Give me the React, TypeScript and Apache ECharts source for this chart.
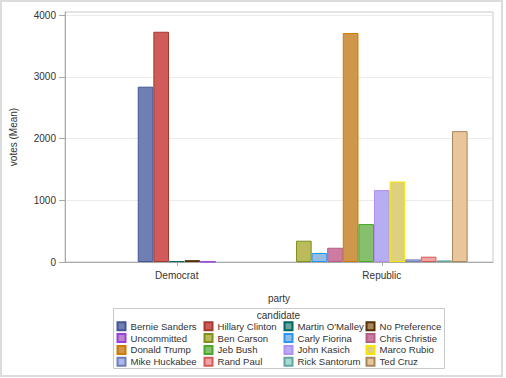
import React, { useEffect, useRef } from "react";
import * as echarts from "echarts";

const partyCategories = ["Democrat", "Republic"];
const candidates = [
  "Bernie Sanders", "Hillary Clinton", "Martin O'Malley", "No Preference",
  "Uncommitted", "Ben Carson", "Carly Fiorina", "Chris Christie",
  "Donald Trump", "Jeb Bush", "John Kasich", "Marco Rubio",
  "Mike Huckabee", "Rand Paul", "Rick Santorum", "Ted Cruz",
];
const candidateParty = [
  "Democrat", "Democrat", "Democrat", "Democrat",
  "Democrat", "Republic", "Republic", "Republic",
  "Republic", "Republic", "Republic", "Republic",
  "Republic", "Republic", "Republic", "Republic",
];
const meanVotes = [
  2840, 3730, 15, 30,
  5, 345, 146, 231,
  3710, 615, 1165, 1304,
  42, 86, 26, 2120,
];
const yTicks = [0, 1000, 2000, 3000, 4000];

const fills = [
  "#6F7EB3", "#D05B5B", "#66A5A0", "#A9865B",
  "#B689CD", "#BABC5C", "#94BDE1", "#CD7BA1",
  "#CF974B", "#86C06C", "#B7AEF1", "#DDD17E",
  "#A9B7EC", "#F4A3A3", "#A3DBD6", "#E8C59A",
];
const borders = [
  "#445694", "#A23A2E", "#01665E", "#543005",
  "#9D3CDB", "#7F8E1F", "#2597FA", "#B26084",
  "#D17800", "#47A82A", "#B38EF3", "#F9E600",
  "#6F7EB3", "#D05B5B", "#66A5A0", "#A9865B",
];

const FONT = "Liberation Sans, Arial, sans-serif";
const TXT = "#333333";

const GRID_LEFT = 63;
const GRID_TOP = 12;
const GRID_W = 430;
const GRID_H = 250;
const CAT_PX = 206; // pixel distance between category centers
const FIRST_CAT_PX = 112.3; // first category center from grid left
const BAR_PX = 15.67;

export default function App() {
  const ref = useRef<HTMLDivElement>(null);

  useEffect(() => {
    if (!ref.current) return;
    const chart = echarts.init(ref.current, undefined, { renderer: "svg" });

    const slot = BAR_PX / CAT_PX;
    const xMin = -FIRST_CAT_PX / CAT_PX;
    const xMax = xMin + GRID_W / CAT_PX;

    const series = candidates.map((name, i) => {
      const p = candidateParty[i];
      const g = partyCategories.indexOf(p);
      const members = candidates.filter((_, j) => candidateParty[j] === p);
      const idx = members.indexOf(name);
      const x = g + (idx - (members.length - 1) / 2) * slot;
      return {
        name,
        type: "bar",
        barWidth: BAR_PX,
        barGap: "-100%",
        data: [[x, meanVotes[i]]],
        itemStyle: { color: fills[i], borderColor: borders[i], borderWidth: 1 },
        emphasis: { disabled: true },
      };
    });

    const columns = [0, 1, 2, 3];
    const colLeft = [116.5, 203.5, 283.5, 365.5];
    const legends = columns.map((c) => ({
      orient: "vertical",
      left: colLeft[c],
      top: 320.4,
      padding: 0,
      itemGap: 0,
      itemWidth: 8,
      itemHeight: 8,
      icon: "rect",
      selectedMode: false,
      data: candidates.filter((_, i) => i % 4 === c),
      textStyle: { fontFamily: FONT, fontSize: 9.6, color: TXT, lineHeight: 11.8 },
    }));

    chart.setOption({
      animation: false,
      backgroundColor: "#ffffff",
      textStyle: { fontFamily: FONT },
      grid: {
        left: GRID_LEFT,
        top: GRID_TOP,
        width: GRID_W,
        height: GRID_H,
        show: true,
        borderColor: "#C6CBC9",
        borderWidth: 1,
        containLabel: false,
      },
      xAxis: {
        type: "value",
        min: xMin,
        max: xMax,
        name: "party",
        nameLocation: "middle",
        nameGap: 31,
        nameTextStyle: { fontFamily: FONT, fontSize: 10, color: TXT },
        axisLine: { show: true, onZero: false, lineStyle: { color: "#A8ABAB" } },
        axisTick: { show: true, length: 4, customValues: [0, 1], lineStyle: { color: "#A8ABAB" } },
        axisLabel: {
          customValues: [0, 1],
          margin: 8,
          fontFamily: FONT,
          fontSize: 10,
          color: TXT,
          formatter: (v: number) => partyCategories[Math.round(v)] ?? "",
        },
        splitLine: { show: false },
      },
      yAxis: {
        type: "value",
        min: 0,
        max: 4050,
        interval: 1000,
        name: "votes (Mean)",
        nameLocation: "middle",
        nameGap: 47,
        nameTextStyle: { fontFamily: FONT, fontSize: 10, color: TXT },
        axisLine: { show: true, onZero: false, lineStyle: { color: "#A8ABAB" } },
        axisTick: { show: true, length: 6, customValues: yTicks, lineStyle: { color: "#A8ABAB" } },
        axisLabel: {
          customValues: yTicks,
          margin: 9,
          fontFamily: FONT,
          fontSize: 10,
          color: TXT,
          formatter: (v: number) => String(v),
        },
        splitLine: { show: true, lineStyle: { color: "#EBEBEB" } },
      },
      legend: legends,
      graphic: [
        {
          type: "rect",
          shape: { x: 1, y: 1, width: 501, height: 375 },
          style: { fill: "none", stroke: "#DCDCDC", lineWidth: 2 },
          silent: true,
        },
        {
          type: "rect",
          shape: { x: 113.5, y: 308.5, width: 331, height: 60 },
          style: { fill: "none", stroke: "#C8C8C8", lineWidth: 1 },
          silent: true,
        },
        {
          type: "text",
          x: 278.5,
          y: 315,
          style: {
            text: "candidate",
            fontFamily: FONT,
            fontSize: 10,
            fill: TXT,
            align: "center",
            verticalAlign: "middle",
          },
          silent: true,
        },
      ],
      series,
    });

    return () => chart.dispose();
  }, []);

  return (
    <div
      ref={ref}
      style={{ position: "absolute", left: 0, top: 0, width: 506, height: 378, background: "#fff" }}
    />
  );
}
